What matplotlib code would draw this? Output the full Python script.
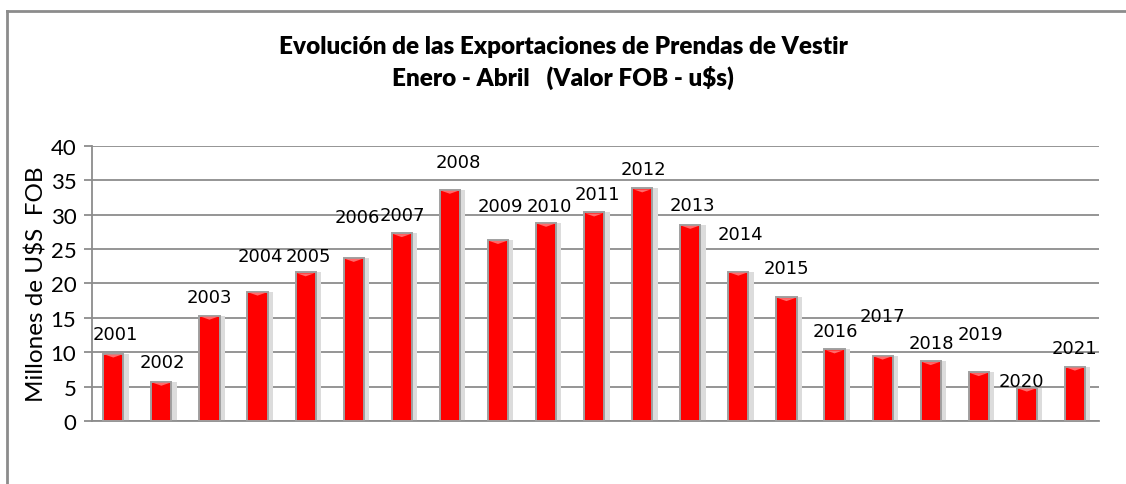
import matplotlib
matplotlib.use("Agg")
import numpy as np
import matplotlib.pyplot as plt
from matplotlib.patches import Rectangle, Polygon

years = ["2001", "2002", "2003", "2004", "2005", "2006", "2007", "2008", "2009", "2010", "2011",
         "2012", "2013", "2014", "2015", "2016", "2017", "2018", "2019", "2020", "2021"]
values = [9.8, 5.7, 15.3, 18.8, 21.6, 23.7, 27.3, 33.6, 26.3, 28.8, 30.3,
          33.8, 28.5, 21.7, 18.0, 10.4, 9.5, 8.7, 7.1, 4.85, 7.9]
# label heights (data units), as placed in the original chart
label_y = [12.6, 8.5, 18.0, 24.0, 24.0, 29.6, 30.0, 37.6, 31.2, 31.2, 33.0,
           36.6, 31.4, 27.2, 22.2, 13.0, 15.2, 11.4, 12.7, 5.8, 10.6]
label_dx = [0.05, 0.02, 0.0, 0.05, 0.05, 0.08, 0.02, 0.17, 0.06, 0.06, 0.06,
            0.02, 0.04, 0.04, 0.0, 0.02, 0.0, 0.02, 0.04, -0.12, 0.0]

fig = plt.figure(figsize=(11.26, 4.85), dpi=100)

# outer chart frame (only left and top edges visible)
fig.add_artist(plt.Line2D([7 / 1126, 7 / 1126], [0, 1 - 12 / 485], transform=fig.transFigure,
                          color="#8c8c8c", lw=2))
fig.add_artist(plt.Line2D([7 / 1126, 1], [1 - 12 / 485, 1 - 12 / 485], transform=fig.transFigure,
                          color="#8c8c8c", lw=2))

ax = fig.add_axes([0.0814, 0.130, 0.976 - 0.0814, 0.6975 - 0.130])

x = np.arange(len(years))
w = 0.42
px = 40 / 275.0  # data units per pixel (vertical)

for xi, v in zip(x, values):
    # soft shadow
    ax.add_patch(Rectangle((xi - w / 2 + 0.04, 0), w + 0.07, v, facecolor="#dcdcdc",
                           edgecolor="none", zorder=2))
    ax.add_patch(Rectangle((xi - w / 2, 0), w, v, facecolor="#ff0000",
                           edgecolor="#a0a0a0", lw=1.4, zorder=3))
    # top highlight
    ax.add_patch(Polygon([[xi - w / 2 + 0.03, v - px], [xi + w / 2 - 0.03, v - px],
                          [xi, v - 4 * px]], closed=True, facecolor="#ff6a6a",
                         edgecolor="none", zorder=4))

for xi, ly, dx, lab in zip(x, label_y, label_dx, years):
    ax.text(xi + dx, ly, lab, ha="center", va="center", fontsize=13,
            family="DejaVu Sans", color="black", zorder=5)

ax.set_xlim(-0.45, 20.5)
ax.set_ylim(0, 40)
ax.set_yticks(range(0, 41, 5))
ax.set_xticks([])
ax.yaxis.grid(True, color="#8c8c8c", lw=1.3, zorder=0)
ax.set_axisbelow(True)
for s in ["top", "right"]:
    ax.spines[s].set_visible(False)
for s in ["left", "bottom"]:
    ax.spines[s].set_color("#8c8c8c")
    ax.spines[s].set_linewidth(1.3)
ax.tick_params(axis="y", length=6, width=1.3, color="#8c8c8c", labelsize=16, pad=5)
for t in ax.get_yticklabels():
    t.set_family("Lato")
ax.set_ylabel("Millones de U$S  FOB", fontsize=17.5, family="Lato", labelpad=2)

fig.text(0.5, 1 - 47 / 485, "Evolución de las Exportaciones de Prendas de Vestir",
         ha="center", va="center", fontsize=17.5, fontweight="heavy", family="Lato")
fig.text(0.5, 1 - 78 / 485, "Enero - Abril   (Valor FOB - u$s)",
         ha="center", va="center", fontsize=17.5, fontweight="heavy", family="Lato")

fig.savefig("out.png", dpi=100)
